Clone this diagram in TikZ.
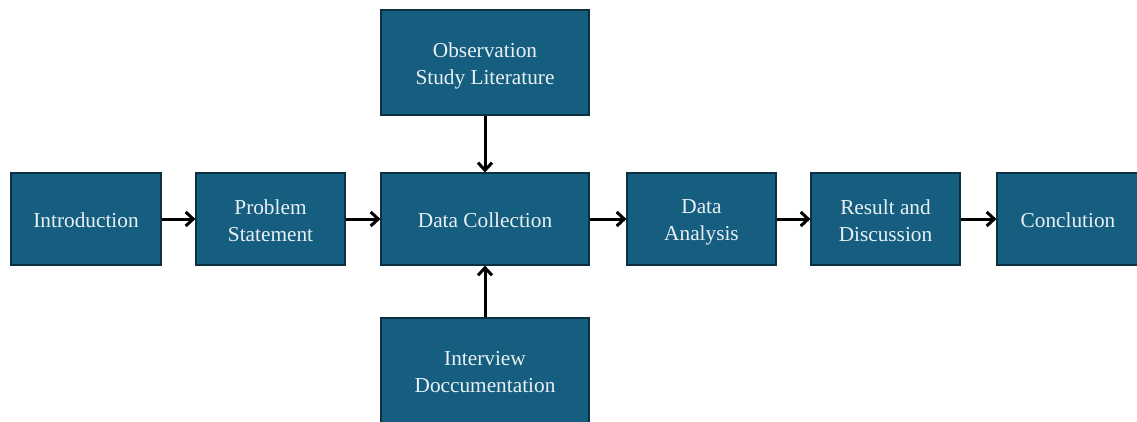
\documentclass[tikz,border=0pt]{standalone}
\usepackage{fontspec}
\setmainfont{Liberation Serif}
\usetikzlibrary{arrows.meta}
\definecolor{boxfill}{RGB}{22,94,128}
\definecolor{boxline}{RGB}{12,48,66}
\definecolor{boxtext}{RGB}{232,240,244}
\begin{document}
\begin{tikzpicture}[x=1pt,y=-1pt,
  stepbox/.style={draw=boxline, line width=1.2pt, fill=boxfill, inner sep=0pt},
  lbl/.style={text=boxtext, align=center, font=\fontsize{21.3}{27}\selectfont, inner sep=0pt},
  flow/.style={-{Straight Barb[length=7.5pt,width=14pt,line width=3pt]}, line width=3pt, black}]
\useasboundingbox (0,0) rectangle (1137,421);
\fill[white] (0,0) rectangle (1137,421);
\node[stepbox, minimum width=150pt, minimum height=92pt] (intro) at (86,219) {};
\node[stepbox, minimum width=149pt, minimum height=92pt] (prob) at (270.5,219) {};
\node[stepbox, minimum width=208pt, minimum height=92pt] (dc) at (485,219) {};
\node[stepbox, minimum width=208pt, minimum height=105pt] (obs) at (485,62.5) {};
\node[stepbox, minimum width=208pt, minimum height=112pt] (intv) at (485,374) {};
\node[stepbox, minimum width=149pt, minimum height=92pt] (da) at (701.5,219) {};
\node[stepbox, minimum width=149pt, minimum height=92pt] (rd) at (885.5,219) {};
\node[stepbox, minimum width=142pt, minimum height=92pt] (conc) at (1068,219) {};
\node[lbl] (introt) at ([yshift=-1pt]intro.center) {Introduction};
\node[lbl] (probt) at ([yshift=-2pt]prob.center) {Problem\\Statement};
\node[lbl] (dct) at ([yshift=-1pt]dc.center) {Data Collection};
\node[lbl] (obst) at ([yshift=-3pt]obs.center) {Observation\\Study Literature};
\node[lbl] (intvt) at (485,372) {Interview\\Doccumentation};
\node[lbl] (dat) at ([yshift=-3pt]da.center) {Data\\Analysis};
\node[lbl] (rdt) at ([yshift=-2pt]rd.center) {Result and\\Discussion};
\node[lbl] (conct) at ([yshift=-1pt]conc.center) {Conclution};
\draw[flow] (intro) -- (prob);
\draw[flow] (prob) -- (dc);
\draw[flow] (dc) -- (da);
\draw[flow] (da) -- (rd);
\draw[flow] (rd) -- (conc);
\draw[flow] (obs) -- (dc);
\draw[flow] (intv) -- (dc);
\end{tikzpicture}
\end{document}
